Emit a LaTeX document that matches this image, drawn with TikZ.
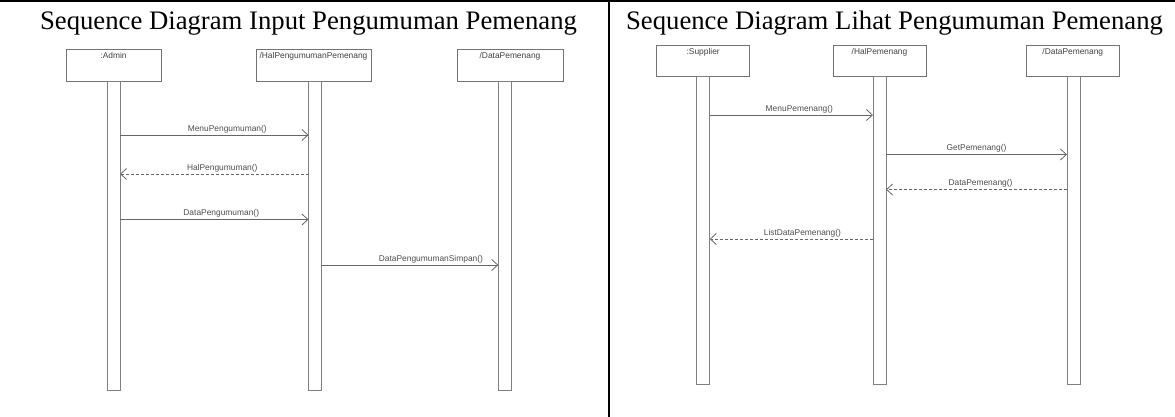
\documentclass[tikz,border=0pt]{standalone}
\usepackage{fontspec}
\setmainfont{Liberation Serif}
\newfontfamily\umlfont{Liberation Sans}
\usepackage{tikz}
\usetikzlibrary{positioning}
\usetikzlibrary{arrows.meta}

\tikzset{
  lifebox/.style={draw=black!55, line width=0.8pt, inner sep=0pt, outer sep=0pt},
  boxname/.style={anchor=north, inner sep=3.5pt, font=\umlfont\fontsize{8.4}{9}\selectfont, text=black!75},
  lifebar/.style={draw=black!50, line width=0.8pt, inner sep=0pt, outer sep=0pt, minimum width=13pt},
  msg/.style={draw=black!60, line width=0.8pt, -{Straight Barb[length=6pt,width=11pt]}},
  reply/.style={msg, dash pattern=on 3pt off 2pt},
  msglabel/.style={above, inner sep=1.5pt, font=\umlfont\fontsize{8.4}{9}\selectfont, text=black!70},
  heading/.style={anchor=base, inner sep=0pt, font=\fontsize{26.7}{30}\selectfont}
}

\begin{document}
\begin{tikzpicture}[x=1pt,y=-1pt]
            \useasboundingbox (0,0) rectangle (1175,417);
            % table lines
            \draw[line width=2pt] (0,1) -- (1175,1);
            \draw[line width=2pt] (608.7,0) -- (608.7,417);

            % Left diagram (Input)
            \node[heading] (headleft) at (308.5,29.5) {Sequence Diagram Input Pengumuman Pemenang};
            \node[lifebox, minimum width=95pt, minimum height=32pt, label={[boxname]north::Admin}] (admin) at (113.5,65) {};
            \node[lifebox, minimum width=115pt, minimum height=32pt, label={[boxname]north:/HalPengumumanPemenang}] (halpeng) at (313.5,65) {};
            \node[lifebox, minimum width=106pt, minimum height=32pt, label={[boxname]north:/DataPemenang}] (datapem) at (510,65) {};
            \node[lifebar, minimum height=309pt, below=0pt of admin] (adminbar) {};
            \node[lifebar, minimum height=309pt, below=0pt of halpeng, xshift=1.5pt] (halpengbar) {};
            \node[lifebar, minimum height=309pt, below=0pt of datapem, xshift=-5.2pt] (datapembar) {};
            \coordinate (m1) at (0,135);
            \coordinate (m2) at (0,174);
            \coordinate (m3) at (0,219.5);
            \coordinate (m4) at (0,265);
            \draw[msg] (adminbar.east |- m1) -- (halpengbar.west |- m1) node[msglabel, midway, xshift=13pt] {MenuPengumuman()};
            \draw[reply] (halpengbar.west |- m2) -- (adminbar.east |- m2) node[msglabel, midway, xshift=8pt] {HalPengumuman()};
            \draw[msg] (adminbar.east |- m3) -- (halpengbar.west |- m3) node[msglabel, midway, xshift=7pt] {DataPengumuman()};
            \draw[msg] (halpengbar.east |- m4) -- (datapembar.west |- m4) node[msglabel, midway, xshift=21pt] {DataPengumumanSimpan()};

            % Right diagram (Lihat)
            \node[heading] (headright) at (894.5,29.5) {Sequence Diagram Lihat Pengumuman Pemenang};
            \node[lifebox, minimum width=93pt, minimum height=31pt, label={[boxname]north::Supplier}] (supplier) at (703.2,60.5) {};
            \node[lifebox, minimum width=93pt, minimum height=31pt, label={[boxname]north:/HalPemenang}] (halpem) at (879.5,60.5) {};
            \node[lifebox, minimum width=93pt, minimum height=31pt, label={[boxname]north:/DataPemenang}] (datapem2) at (1072.8,60.5) {};
            \node[lifebar, minimum height=308pt, below=0pt of supplier] (supplierbar) {};
            \node[lifebar, minimum height=308pt, below=0pt of halpem] (halpembar) {};
            \node[lifebar, minimum height=308pt, below=0pt of datapem2, xshift=0.7pt] (datapem2bar) {};
            \coordinate (n1) at (0,115);
            \coordinate (n2) at (0,154.5);
            \coordinate (n3) at (0,189.5);
            \coordinate (n4) at (0,239);
            \draw[msg] (supplierbar.east |- n1) -- (halpembar.west |- n1) node[msglabel, midway, xshift=8pt] {MenuPemenang()};
            \draw[msg] (halpembar.east |- n2) -- (datapem2bar.west |- n2) node[msglabel, midway] {GetPemenang()};
            \draw[reply] (datapem2bar.west |- n3) -- (halpembar.east |- n3) node[msglabel, midway, xshift=4pt] {DataPemenang()};
            \draw[reply] (halpembar.west |- n4) -- (supplierbar.east |- n4) node[msglabel, midway, xshift=11pt] {ListDataPemenang()};
        \end{tikzpicture}
\end{document}
